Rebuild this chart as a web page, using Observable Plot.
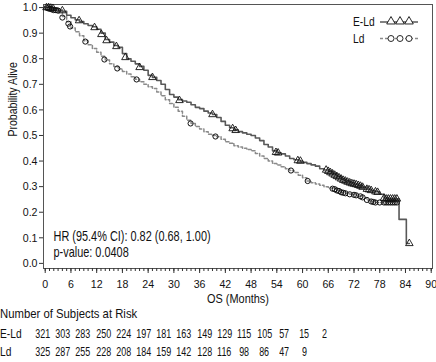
<!DOCTYPE html>
<html>
<head>
<meta charset="utf-8">
<script src="https://cdn.jsdelivr.net/npm/d3@7"></script>
<script src="https://cdn.jsdelivr.net/npm/@observablehq/plot@0.6"></script>
<style>
  body { margin: 0; background: #fff; }
  #wrap { position: relative; width: 436px; height: 362px; font-family: "Liberation Sans", Arial, sans-serif; color: #111; overflow: hidden; }
  #legend { position: absolute; left: 348px; top: 10px; }
  .risk { position: absolute; left: 0; font-size: 12.8px; white-space: nowrap; }
  .row { display: flex; height: 18px; line-height: 18px; }
  .row.head { height: 20px; }
  .row .title { display: inline-block; transform: scaleX(0.885); transform-origin: left center; }
  .row .lab { width: 32px; }
  .row .lab span { display: inline-block; transform: scaleX(0.8); transform-origin: left center; }
  .row .cell { width: 20.2px; text-align: center; }
  .row .cell span { display: inline-block; transform: scaleX(0.7); }
</style>
</head>
<body>
<div id="wrap"></div>
<script>
// ---- data ----
const groups = ["E-Ld", "Ld"];
const eldMonths = [0,1,2,3,4,5,6,7,8,9,10,11,12,13,14,15,16,17,18,19,20,21,22,23,24,25,26,27,28,29,30,31,32,33,34,35,36,37,38,39,40,41,42,43,44,45,46,47,48,49,50,51,52,53,54,55,56,57,58,59,60,61,62,63,64,65,66,67,68,69,70,71,72,73,74,75,76,77,78,79,80,82.5,84.2,84.9];
const eldSurv = [1.0,1.0,0.997,0.99,0.985,0.97,0.96,0.952,0.945,0.937,0.93,0.925,0.915,0.9,0.875,0.865,0.852,0.845,0.82,0.8,0.79,0.78,0.77,0.755,0.735,0.727,0.715,0.7,0.68,0.66,0.65,0.64,0.635,0.63,0.62,0.61,0.605,0.595,0.588,0.582,0.57,0.555,0.54,0.53,0.522,0.515,0.51,0.505,0.5,0.49,0.48,0.465,0.455,0.44,0.432,0.428,0.42,0.41,0.405,0.4,0.395,0.39,0.385,0.38,0.37,0.365,0.36,0.35,0.34,0.33,0.322,0.315,0.31,0.305,0.298,0.29,0.285,0.28,0.27,0.255,0.252,0.172,0.078,0.078];
const ldMonths = [0,1,2,3,4,5,6,7,8,9,10,11,12,13,14,15,16,17,18,19,20,21,22,23,24,25,26,27,28,29,30,31,32,33,34,35,36,37,38,39,40,41,42,43,44,45,46,47,48,49,50,51,52,53,54,55,56,57,58,59,60,61,62,63,64,65,66,67,68,69,70,71,72,73,74,75,76,77,82.3];
const ldSurv = [1.0,0.995,0.99,0.985,0.965,0.945,0.92,0.905,0.89,0.87,0.855,0.84,0.825,0.81,0.795,0.78,0.77,0.76,0.75,0.74,0.73,0.72,0.71,0.7,0.69,0.684,0.67,0.655,0.64,0.625,0.61,0.595,0.575,0.56,0.547,0.535,0.525,0.515,0.505,0.5,0.495,0.485,0.475,0.47,0.46,0.455,0.45,0.445,0.44,0.43,0.42,0.41,0.4,0.39,0.385,0.378,0.37,0.363,0.355,0.345,0.335,0.322,0.315,0.31,0.305,0.3,0.295,0.292,0.285,0.278,0.274,0.27,0.268,0.262,0.255,0.248,0.242,0.238,0.238];
const eldCensorMonths = [0.3,0.8,1.3,1.8,4,7.9,11.5,13.1,14.3,16.6,18.7,22,25,31.3,39,43.7,44.4,53.8,54.3,58.9,59.5,65.5,66,66.5,67,67.5,68,68.5,69,69.5,70,70.5,71,71.5,72,72.5,73,73.5,74,75,75.5,76,77,77.5,79,79.5,80,80.5,81,81.5,82,84.9];
const eldCensorSurv = [1.0,1.0,0.998,0.997,0.988,0.949,0.922,0.895,0.871,0.848,0.805,0.766,0.727,0.637,0.582,0.527,0.52,0.434,0.432,0.402,0.4,0.365,0.36,0.355,0.35,0.345,0.34,0.335,0.33,0.325,0.322,0.318,0.315,0.312,0.31,0.308,0.305,0.302,0.298,0.29,0.288,0.285,0.28,0.278,0.255,0.252,0.252,0.252,0.252,0.252,0.252,0.078];
const ldCensorMonths = [0.5,1,1.5,2,2.5,3,4,5.4,5.8,9.35,13.8,16.8,21.3,33.9,39.7,57.3,61.2,67,67.5,68,68.5,69,69.5,70,71,72,72.5,73.5,74,75,76,76.5,77,78,79,79.5,80,80.5,81,81.5,82];
const ldCensorSurv = [0.998,0.995,0.993,0.99,0.99,0.988,0.961,0.937,0.926,0.867,0.797,0.762,0.719,0.547,0.496,0.363,0.322,0.292,0.29,0.285,0.283,0.278,0.276,0.274,0.27,0.268,0.266,0.262,0.258,0.248,0.242,0.24,0.238,0.238,0.238,0.238,0.238,0.238,0.238,0.238,0.238];
const xTicks = [0,6,12,18,24,30,36,42,48,54,60,66,72,78,84,90];
const yTicks = [0,0.1,0.2,0.3,0.4,0.5,0.6,0.7,0.8,0.9,1.0];
const riskEld = [321,303,283,250,224,197,181,163,149,129,115,105,57,15,2];
const riskLd = [325,287,255,228,208,184,159,142,128,116,98,86,47,9];
const annotation = ["HR (95.4% CI): 0.82 (0.68, 1.00)", "p-value: 0.0408"];
const riskTitle = "Number of Subjects at Risk";

const curveEld = eldMonths.map((m, i) => ({m, s: eldSurv[i]}));
const curveLd = ldMonths.map((m, i) => ({m, s: ldSurv[i]}));
const censEld = eldCensorMonths.map((m, i) => ({m, s: eldCensorSurv[i]}));
const censLd = ldCensorMonths.map((m, i) => ({m, s: ldCensorSurv[i]}));

const font = '"Liberation Sans", Arial, sans-serif';

const chart = Plot.plot({
  width: 436,
  height: 306,
  marginLeft: 43,
  marginRight: 4,
  marginTop: 4,
  marginBottom: 38,
  style: `font-family: ${font}; font-size: 11.8px; color: #111; background: #fff; overflow: visible;`,
  x: {domain: [-0.4, 90.3]},
  y: {domain: [-0.02, 1.012]},
  marks: [
    Plot.frame({stroke: "#555"}),
    Plot.axisX({ticks: d3.range(0, 91, 1), tickSize: 3, tickFormat: () => "", stroke: "#333", label: null}),
    Plot.axisX({ticks: xTicks, tickSize: 5, tickPadding: 6, stroke: "#333", fontSize: 11.8, label: null}),
    Plot.axisY({ticks: yTicks, tickSize: 4, tickPadding: 2, tickFormat: ".1f", stroke: "#333", fontSize: 11.8, label: null}),
    Plot.text(["OS (Months)"], {frameAnchor: "bottom", dy: 30, lineAnchor: "middle", fontSize: 12.5, fill: "#111"}),
    Plot.text(["Probability Alive"], {frameAnchor: "left", dx: -31, rotate: -90, lineAnchor: "middle", fontSize: 13, fill: "#111"}),
    Plot.line(curveLd, {x: "m", y: "s", curve: "step-after", stroke: "#8a8a8a", strokeWidth: 1.5, strokeDasharray: "3,2"}),
    Plot.line(curveEld, {x: "m", y: "s", curve: "step-after", stroke: "#585858", strokeWidth: 1.6}),
    Plot.dot(censLd, {x: "m", y: "s", symbol: "circle", r: 2.6, stroke: "#111", strokeWidth: 1, fill: "none"}),
    Plot.dot(censEld, {x: "m", y: "s", symbol: "triangle", r: 2.8, stroke: "#111", strokeWidth: 0.9, fill: "none"}),
    Plot.text([annotation.join("\n")], {frameAnchor: "bottom-left", dx: 10, dy: -12, textAnchor: "start", lineAnchor: "bottom", lineHeight: 1.12, fontSize: 14, fill: "#111"})
  ]
});

// horizontally condense text (reference uses a condensed typeface)
function squeezeEls(els, k) {
  els.forEach(el => {
    const t = el.getAttribute("transform") || "";
    el.setAttribute("transform", (t + ` scale(${k},1)`).trim());
    const x = el.getAttribute("x");
    if (x != null && +x !== 0) el.setAttribute("x", +x / k);
  });
}
squeezeEls(chart.querySelectorAll('g[aria-label="x-axis tick label"] text'), 0.9);
squeezeEls(chart.querySelectorAll('g[aria-label="y-axis tick label"] text'), 0.9);
const textGroups = chart.querySelectorAll('g[aria-label="text"]');
squeezeEls(textGroups[0].querySelectorAll("text"), 0.875);
squeezeEls(textGroups[1].querySelectorAll("text"), 0.81);
squeezeEls(textGroups[2].querySelectorAll("text"), 0.78);

const wrap = document.getElementById("wrap");
wrap.appendChild(chart);

// legend (inside the plot, top-right)
const leg = document.createElement("div");
leg.id = "legend";
const ls = d3.create("svg").attr("width", 80).attr("height", 40).style("font-family", font).style("font-size", "12.5px");
groups.forEach((g, i) => {
  const y = 12 + i * 16.5;
  ls.append("text").attr("transform", `translate(5,${y}) scale(0.82,1)`).attr("dy", "0.35em").attr("fill", "#111").text(g);
  ls.append("line").attr("x1", 32).attr("x2", 70).attr("y1", y).attr("y2", y)
    .attr("stroke", i === 0 ? "#585858" : "#8a8a8a").attr("stroke-width", 1.5)
    .attr("stroke-dasharray", i === 0 ? null : "3,2");
  [43, 52, 61].forEach(cx => {
    if (i === 0) {
      const s = d3.symbol(d3.symbolTriangle, 32)();
      ls.append("path").attr("d", s).attr("transform", `translate(${cx},${y - 0.5})`).attr("fill", "#fff").attr("stroke", "#111").attr("stroke-width", 0.9);
    } else {
      ls.append("circle").attr("cx", cx).attr("cy", y).attr("r", 3).attr("fill", "#fff").attr("stroke", "#111").attr("stroke-width", 0.9);
    }
  });
});
leg.appendChild(ls.node());
wrap.appendChild(leg);

// risk table
const risk = document.createElement("div");
risk.className = "risk";
risk.style.top = "305px";
const title = document.createElement("div");
title.className = "row head";
const tspan = document.createElement("span");
tspan.className = "title"; tspan.textContent = riskTitle;
title.appendChild(tspan);
risk.appendChild(title);
[[groups[0], riskEld], [groups[1], riskLd]].forEach(([g, vals]) => {
  const row = document.createElement("div");
  row.className = "row";
  const lab = document.createElement("div");
  lab.className = "lab";
  const ls2 = document.createElement("span");
  ls2.textContent = g;
  lab.appendChild(ls2);
  row.appendChild(lab);
  vals.forEach(v => {
    const c = document.createElement("div");
    c.className = "cell";
    const sp = document.createElement("span");
    sp.textContent = v;
    c.appendChild(sp);
    row.appendChild(c);
  });
  risk.appendChild(row);
});
wrap.appendChild(risk);
</script>
</body>
</html>
